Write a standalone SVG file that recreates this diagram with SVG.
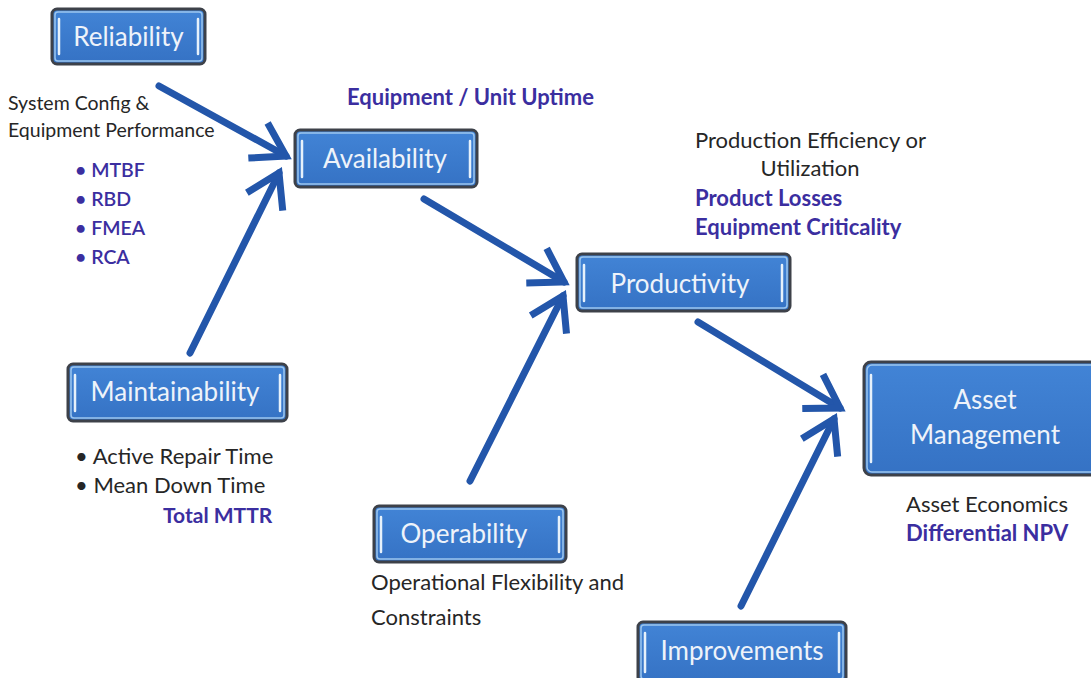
<svg xmlns="http://www.w3.org/2000/svg" width="1091" height="678" viewBox="0 0 1091 678">
<style>
.box{fill:url(#bg);stroke:#3d4149;stroke-width:3}
.hl{fill:none;stroke:#9cc6ee;stroke-width:1.5}
.bar{stroke:#e6f1fb;stroke-width:2.5;stroke-linecap:round}
.nt{font-family:Lato,"Liberation Sans",sans-serif;font-size:26px;fill:#eef3fa;text-anchor:middle}
.t{font-family:Lato,"Liberation Sans",sans-serif;font-size:22px;fill:#262626}
.s{font-family:Lato,"Liberation Sans",sans-serif;font-size:19.5px;fill:#262626}
.b{font-family:Lato,"Liberation Sans",sans-serif;font-size:22px;fill:#3b2ea0;font-weight:bold}
.p{font-family:Lato,"Liberation Sans",sans-serif;font-size:19.5px;fill:#3b2ea0;font-weight:600}
.c{fill:none;stroke:#2356aa;stroke-width:7;stroke-linecap:round}
</style>
<defs>
<linearGradient id="bg" x1="0" y1="0" x2="0" y2="1">
<stop offset="0" stop-color="#4284d6"/>
<stop offset="1" stop-color="#3572c4"/>
</linearGradient>
<marker id="ah" markerUnits="userSpaceOnUse" markerWidth="64" markerHeight="64" refX="0" refY="0" viewBox="-42 -32 52 64" orient="auto">
<path d="M-32,-20 L0,0 L-32,20" fill="none" stroke="#2356aa" stroke-width="7" stroke-linejoin="miter"/>
</marker>
</defs>
<rect width="1091" height="678" fill="#ffffff"/>
<g id="connectors">
<line class="c" x1="159" y1="86" x2="286" y2="156" marker-end="url(#ah)"/>
<line class="c" x1="190" y1="353" x2="279" y2="173" marker-end="url(#ah)"/>
<line class="c" x1="424" y1="199" x2="564" y2="282" marker-end="url(#ah)"/>
<line class="c" x1="470" y1="481" x2="563" y2="296" marker-end="url(#ah)"/>
<line class="c" x1="698" y1="322" x2="840" y2="408" marker-end="url(#ah)"/>
<line class="c" x1="741" y1="606" x2="834" y2="419" marker-end="url(#ah)"/>
</g>
<g id="reliability">
<rect class="box" x="52" y="9" width="153" height="55" rx="5"/>
<rect class="hl" x="55" y="12" width="147" height="49" rx="3"/>
<line class="bar" x1="59" y1="19" x2="59" y2="54"/><line class="bar" x1="198" y1="19" x2="198" y2="54"/>
<text class="nt" x="128.5" y="46">Reliability</text>
</g>
<g id="availability">
<rect class="box" x="295" y="130" width="182" height="57" rx="5"/>
<rect class="hl" x="298" y="133" width="176" height="51" rx="3"/>
<line class="bar" x1="302" y1="141" x2="302" y2="177"/><line class="bar" x1="470" y1="141" x2="470" y2="177"/>
<text class="nt" x="385" y="168">Availability</text>
</g>
<g id="productivity">
<rect class="box" x="577" y="254" width="213" height="57" rx="5"/>
<rect class="hl" x="580" y="257" width="207" height="51" rx="3"/>
<line class="bar" x1="584" y1="265" x2="584" y2="301"/><line class="bar" x1="782" y1="265" x2="782" y2="301"/>
<text class="nt" x="680" y="293">Productivity</text>
</g>
<g id="maintainability">
<rect class="box" x="68" y="364" width="219" height="57" rx="5"/>
<rect class="hl" x="71" y="367" width="213" height="51" rx="3"/>
<line class="bar" x1="75" y1="375" x2="75" y2="411"/><line class="bar" x1="280" y1="375" x2="280" y2="411"/>
<text class="nt" x="175" y="401">Maintainability</text>
</g>
<g id="operability">
<rect class="box" x="374" y="506" width="192" height="56" rx="5"/>
<rect class="hl" x="377" y="509" width="186" height="50" rx="3"/>
<line class="bar" x1="381" y1="517" x2="381" y2="552"/><line class="bar" x1="559" y1="517" x2="559" y2="552"/>
<text class="nt" x="464" y="543">Operability</text>
</g>
<g id="asset-management">
<rect class="box" x="864" y="362" width="240" height="113" rx="7"/>
<rect class="hl" x="867" y="365" width="234" height="107" rx="5"/>
<line class="bar" x1="871" y1="375" x2="871" y2="462"/>
<text class="nt" x="985" y="409">Asset</text>
<text class="nt" x="985" y="444">Management</text>
</g>
<g id="improvements">
<rect class="box" x="638" y="622" width="208" height="60" rx="5"/>
<rect class="hl" x="641" y="625" width="202" height="54" rx="3"/>
<line class="bar" x1="645" y1="633" x2="645" y2="672"/><line class="bar" x1="839" y1="633" x2="839" y2="672"/>
<text class="nt" x="742" y="660">Improvements</text>
</g>
<g id="labels">
<text class="s" x="8" y="110">System Config &amp;</text>
<text class="s" x="8" y="137">Equipment Performance</text>
<text class="p" x="75" y="177">• MTBF</text>
<text class="p" x="75" y="206">• RBD</text>
<text class="p" x="75" y="235">• FMEA</text>
<text class="p" x="75" y="264">• RCA</text>
<text class="b" x="347" y="105">Equipment / Unit Uptime</text>
<text class="t" x="695" y="148">Production Efficiency or</text>
<text class="t" x="810" y="176" text-anchor="middle">Utilization</text>
<text class="b" x="695" y="206">Product Losses</text>
<text class="b" x="695" y="235">Equipment Criticality</text>
<text class="t" x="75" y="464">• Active Repair Time</text>
<text class="t" x="75" y="493">• Mean Down Time</text>
<text class="b" x="163" y="523" style="font-size:21px">Total MTTR</text>
<text class="t" x="371" y="590">Operational Flexibility and</text>
<text class="t" x="371" y="625">Constraints</text>
<text class="t" x="906" y="512">Asset Economics</text>
<text class="b" x="906" y="541">Differential NPV</text>
</g>
</svg>
